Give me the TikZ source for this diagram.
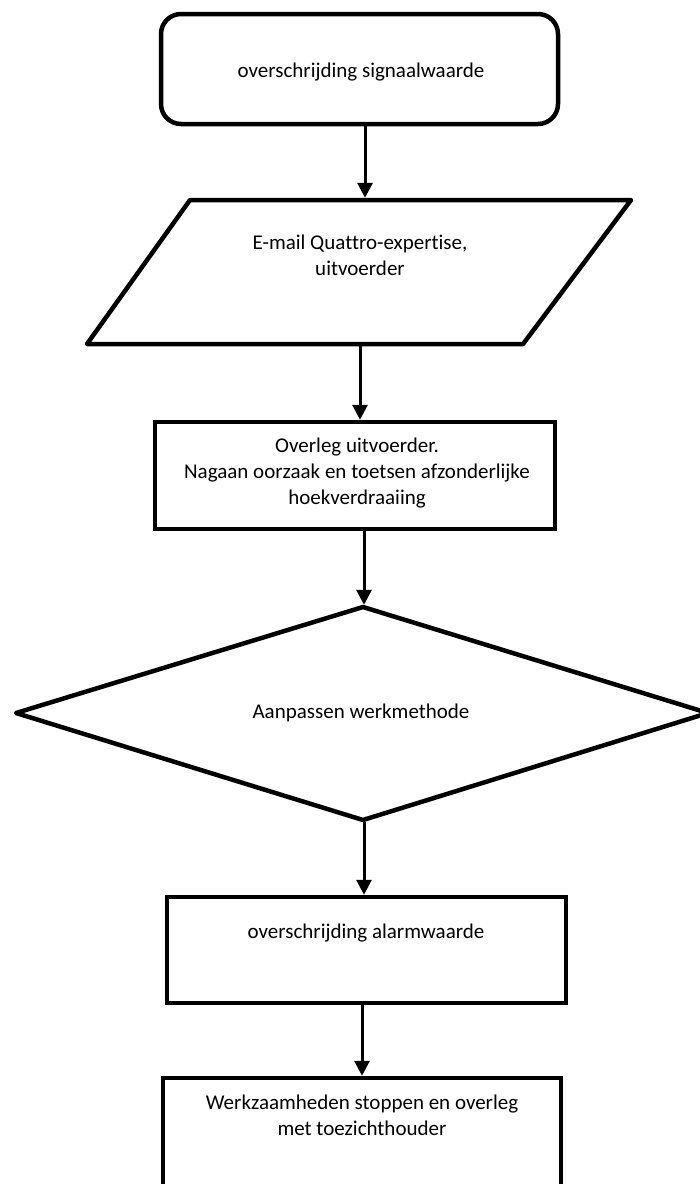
\documentclass[tikz,border=0pt]{standalone}
\usepackage{fontspec}
\setmainfont{Carlito}[Ligatures=NoCommon]
\usetikzlibrary{arrows.meta}
\begin{document}
\begin{tikzpicture}[x=1pt,y=-1pt,
  box/.style={draw, line width=4.5pt, inner sep=0pt, fill=white},
  lbl/.style={align=center, inner sep=0pt, font=\fontsize{21}{26}\selectfont},
  conn/.style={line width=3pt, -{Triangle[length=15pt,width=15pt]}},
  outline/.style={draw, line width=4.5pt, line join=round}]
\useasboundingbox (0,0) rectangle (700,1184);
\clip (0,0) rectangle (700,1184);
% start
\node[box, rounded corners=20pt, minimum width=397pt, minimum height=110pt] (b1) at (359.5,69) {};
\node[lbl] (t1) at (361,72) {overschrijding signaalwaarde};
% parallelogram
\coordinate (pTL) at (190,200);
\coordinate (pTR) at (631,200);
\coordinate (pBR) at (523,344);
\coordinate (pBL) at (87,344);
\draw[outline] (pTL) -- (pTR) -- (pBR) -- (pBL) -- cycle;
\node[inner sep=0pt, minimum width=440pt, minimum height=148pt] (para) at (359,272) {};
\node[lbl] (t2) at (360,255.5) {E-mail Quattro-expertise,\\uitvoerder};
% box 3
\node[box, minimum width=400pt, minimum height=107pt] (b3) at (355,475.5) {};
\node[lbl] (t3) at (357,473) {Overleg uitvoerder.\\Nagaan oorzaak en toetsen afzonderlijke\\hoekverdraaiing};
% diamond
\coordinate (dT) at (363,607);
\coordinate (dL) at (16,713);
\coordinate (dR) at (708,713);
\coordinate (dB) at (363,820);
\draw[outline] (dT) -- (dR) -- (dB) -- (dL) -- cycle;
\node[inner sep=0pt, minimum width=692pt, minimum height=217pt] (dia) at (362,713.5) {};
\node[lbl] (t4) at (361,713) {Aanpassen werkmethode};
% box 5
\node[box, minimum width=399pt, minimum height=106pt] (b5) at (366.5,950) {};
\node[lbl] (t5) at (366,933) {overschrijding alarmwaarde};
% box 6
\node[box, minimum width=398pt, minimum height=140pt] (b6) at (362,1148) {};
\node[lbl] (t6) at (362,1115.5) {Werkzaamheden stoppen en overleg\\met toezichthouder};
% connectors
\coordinate (x1) at (365,0);
\coordinate (x2) at (360,0);
\coordinate (x3) at (364,0);
\coordinate (x4) at (364,0);
\coordinate (x5) at (362,0);
\draw[conn] (b1.south -| x1) -- (para.north -| x1);
\draw[conn] (para.south -| x2) -- (b3.north -| x2);
\draw[conn] (b3.south -| x3) -- (dia.north -| x3);
\draw[conn] (dia.south -| x4) -- (b5.north -| x4);
\draw[conn] (b5.south -| x5) -- (b6.north -| x5);
\end{tikzpicture}
\end{document}
